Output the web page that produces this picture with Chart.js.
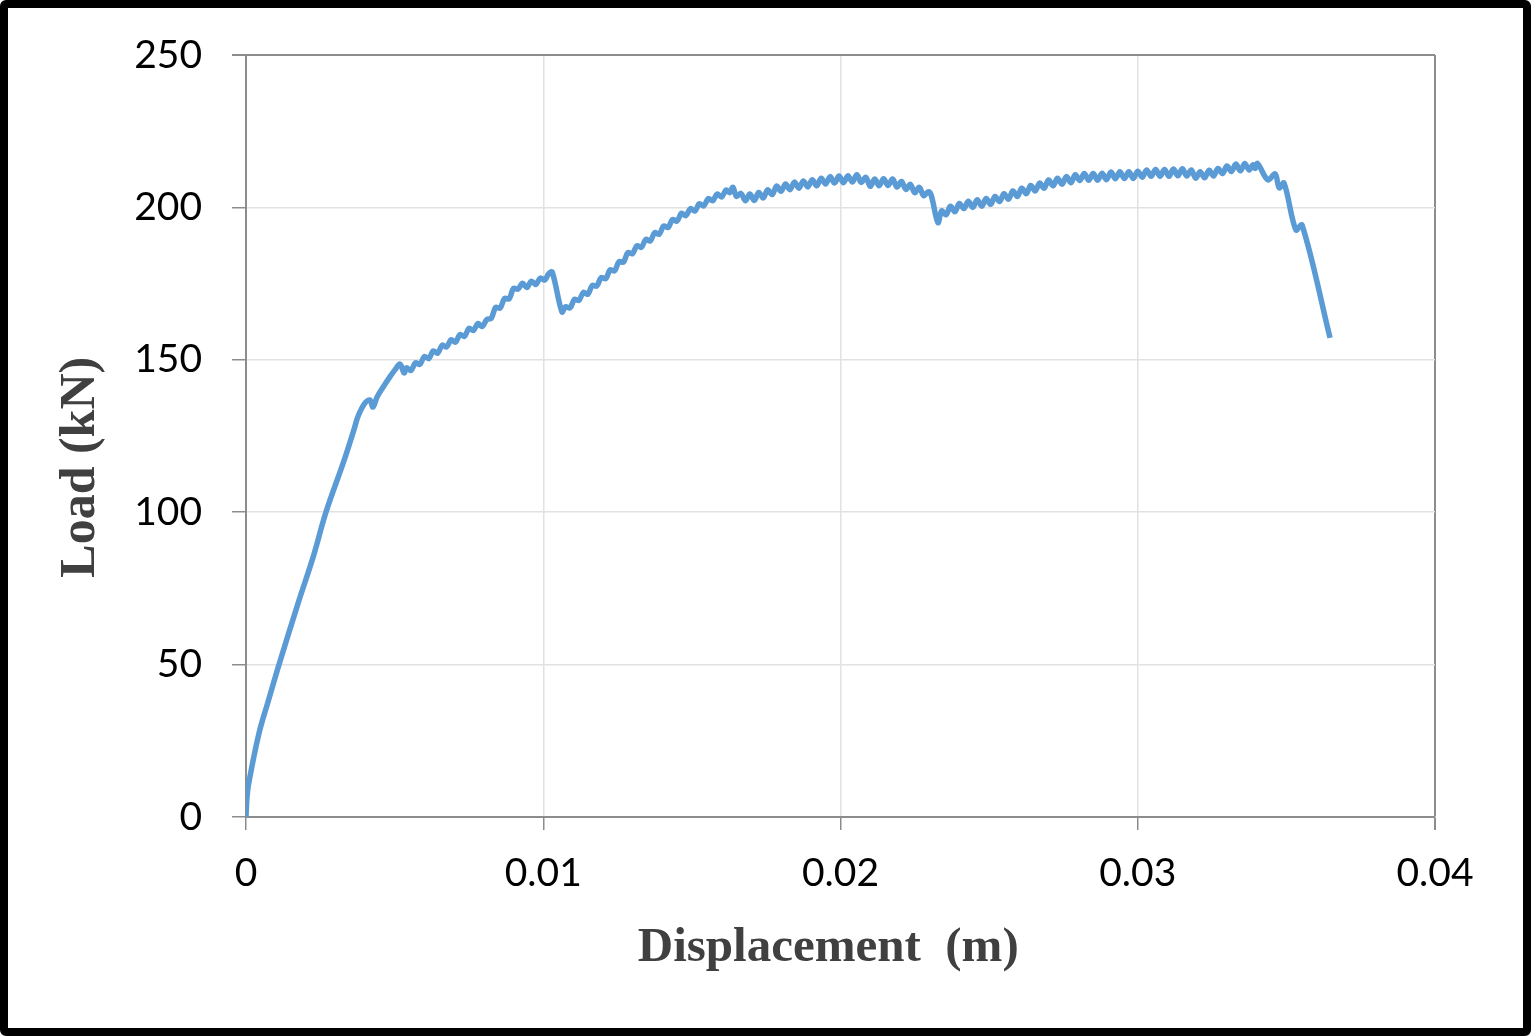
<!DOCTYPE html>
<html>
<head>
<meta charset="utf-8">
<script src="https://cdn.jsdelivr.net/npm/chart.js@4"></script>
<style>
  html, body { margin: 0; padding: 0; background: #fff; }
  #wrap { position: relative; width: 1531px; height: 1036px; }
  #frame {
    position: absolute; left: 0; top: 0; width: 1531px; height: 1036px;
    box-sizing: border-box; border: 8px solid #000; border-radius: 6px;
    pointer-events: none;
  }
</style>
</head>
<body>
<div id="wrap">
  <canvas id="myChart" width="1531" height="1036"></canvas>
  <div id="frame"></div>
</div>
<script>
const dispMm = [
  0, 0.03, 0.09, 0.44, 0.76, 1.11, 1.78, 2.25, 2.69, 3.30, 3.63,
  3.77, 4.00, 4.17, 4.27, 4.41, 4.61, 4.84, 5.01, 5.18, 5.32,
  5.40, 5.55, 5.70, 5.85, 6.00, 6.15, 6.30, 6.45, 6.60, 6.75,
  6.90, 7.05, 7.20, 7.35, 7.50, 7.65, 7.80, 7.95, 8.10, 8.25,
  8.40, 8.55, 8.70, 8.85, 9.00, 9.15, 9.30, 9.45, 9.60, 9.75,
  9.90, 10.05, 10.18, 10.30, 10.63, 10.75, 10.90, 11.05, 11.20, 11.35,
  11.50, 11.65, 11.80, 11.95, 12.10, 12.25, 12.40, 12.55, 12.70, 12.85,
  13.00, 13.15, 13.30, 13.45, 13.60, 13.75, 13.90, 14.05, 14.20, 14.35,
  14.50, 14.65, 14.80, 14.95, 15.10, 15.25, 15.40, 15.55, 15.70, 15.85,
  16.00, 16.15, 16.27, 16.38, 16.50, 16.65, 16.80, 16.95, 17.10, 17.25,
  17.40, 17.55, 17.70, 17.85, 18.00, 18.15, 18.30, 18.45, 18.60, 18.75,
  18.90, 19.05, 19.20, 19.35, 19.50, 19.65, 19.80, 19.95, 20.10, 20.25,
  20.40, 20.55, 20.70, 20.85, 21.00, 21.15, 21.30, 21.45, 21.60, 21.75,
  21.90, 22.05, 22.20, 22.35, 22.50, 22.65, 22.80, 22.95, 23.05, 23.28,
  23.40, 23.55, 23.70, 23.85, 24.00, 24.15, 24.30, 24.45, 24.60, 24.75,
  24.90, 25.05, 25.20, 25.35, 25.50, 25.65, 25.80, 25.95, 26.10, 26.25,
  26.40, 26.55, 26.70, 26.85, 27.00, 27.15, 27.30, 27.45, 27.60, 27.75,
  27.90, 28.05, 28.20, 28.35, 28.50, 28.65, 28.80, 28.95, 29.10, 29.25,
  29.40, 29.55, 29.70, 29.85, 30.00, 30.15, 30.30, 30.45, 30.60, 30.75,
  30.90, 31.05, 31.20, 31.35, 31.50, 31.65, 31.80, 31.95, 32.10, 32.25,
  32.40, 32.55, 32.70, 32.85, 33.00, 33.15, 33.30, 33.45, 33.60, 33.75,
  33.88, 33.95, 34.03, 34.38, 34.62, 34.76, 34.92, 35.32, 35.53, 36.47
];
const loadKN = [
  0, 6, 11, 27.6, 38.4, 50, 71, 85, 100, 117, 127,
  131.5, 135.8, 136.8, 134.5, 137.8, 141, 144.4, 146.7, 148.6, 145.7,
  147.4, 146.5, 149.0, 148.5, 151.1, 150.4, 152.9, 152.2, 154.8, 154.2,
  156.6, 155.8, 158.3, 157.7, 160.3, 159.6, 161.9, 160.9, 163.2, 163.6,
  167.2, 167.0, 170.1, 170.0, 173.4, 173.2, 175.1, 173.7, 175.8, 174.7,
  176.8, 176.2, 178.2, 178.8, 165.7, 167.4, 167.0, 169.8, 169.5, 172.1,
  171.5, 174.4, 174.2, 177.0, 176.6, 179.5, 179.2, 182.2, 182.1, 185.2,
  184.8, 187.4, 186.9, 189.5, 189.0, 191.7, 191.2, 193.9, 193.4, 196.0,
  195.5, 198.1, 197.3, 199.6, 198.8, 201.2, 200.5, 202.9, 202.2, 204.4,
  203.4, 205.7, 204.8, 206.6, 203.6, 204.6, 202.2, 204.4, 202.3, 204.9,
  203.1, 205.8, 204.2, 207.0, 205.3, 207.7, 205.8, 208.3, 206.3, 208.7,
  206.7, 209.1, 207.1, 209.6, 207.7, 210.1, 208.0, 210.3, 208.1, 210.4,
  208.3, 210.7, 208.2, 209.9, 206.9, 209.3, 207.1, 209.4, 207.2, 209.3,
  206.7, 208.5, 205.9, 207.6, 204.8, 206.6, 203.8, 205.1, 204.0, 195.0,
  198.8, 197.6, 200.4, 198.6, 201.3, 199.6, 202.0, 200.0, 202.5, 200.4,
  202.9, 201.0, 203.6, 201.9, 204.5, 202.7, 205.4, 203.6, 206.3, 204.5,
  207.2, 205.4, 208.0, 206.3, 209.0, 207.1, 209.6, 207.6, 210.1, 208.1,
  210.7, 208.8, 211.1, 208.9, 211.1, 208.9, 211.2, 209.1, 211.6, 209.4,
  211.7, 209.5, 211.7, 209.5, 211.9, 209.9, 212.3, 210.2, 212.4, 210.2,
  212.4, 210.2, 212.6, 210.4, 212.7, 210.3, 212.3, 209.6, 211.7, 209.7,
  212.2, 210.3, 212.8, 211.1, 213.6, 211.8, 214.2, 212.0, 214.4, 212.3,
  214.0, 212.8, 214.4, 209.0, 211.0, 206.4, 208.0, 192.6, 194.2, 157.2
];
const xTicks = [0, 0.01, 0.02, 0.03, 0.04];
const yTicks = [0, 50, 100, 150, 200, 250];

const points = dispMm.map((d, i) => ({ x: d / 1000, y: loadKN[i] }));

const edgeGray = '#8c8c8c';
const gridGray = '#e2e2e2';
const tickFont = { family: 'Lato', size: 39 };

const ctx = document.getElementById('myChart').getContext('2d');
const myChart = new Chart(ctx, {
    type: 'line',
    data: {
        datasets: [{
            label: 'Load',
            data: points,
            borderColor: '#5b9bd5',
            borderWidth: 5.5,
            pointRadius: 0,
            fill: false,
            tension: 0.35
        }]
    },
    options: {
        responsive: false,
        animation: false,
        layout: { padding: { left: 0, top: 55, right: 96, bottom: 0 } },
        scales: {
            x: {
                type: 'linear',
                min: xTicks[0],
                max: xTicks[xTicks.length - 1],
                afterBuildTicks: axis => { axis.ticks = xTicks.map(v => ({ value: v })); },
                afterFit: axis => { axis.height = 219; },
                ticks: {
                    color: '#000',
                    font: tickFont,
                    padding: 20,
                    maxRotation: 0,
                    callback: v => (v === 0 ? '0' : v.toFixed(2))
                },
                grid: {
                    color: c => (c.tick && c.tick.value === 0.04 ? edgeGray : gridGray),
                    lineWidth: c => (c.tick && c.tick.value === 0.04 ? 2 : 1.5),
                    tickColor: edgeGray,
                    tickLength: 13
                },
                border: { color: edgeGray, width: 2 },
                title: {
                    display: true,
                    // trailing spaces nudge the title a bit left, like the original
                    text: 'Displacement  (m)  ',
                    color: '#404040',
                    font: { family: 'Liberation Serif', size: 49, weight: 'bold' },
                    padding: { top: 0, bottom: 58 }
                }
            },
            y: {
                min: yTicks[0],
                max: yTicks[yTicks.length - 1],
                afterBuildTicks: axis => { axis.ticks = yTicks.map(v => ({ value: v })); },
                afterFit: axis => { axis.width = 246; },
                ticks: {
                    color: '#000',
                    font: tickFont,
                    padding: 30
                },
                grid: {
                    color: c => (c.tick && c.tick.value === 250 ? edgeGray : gridGray),
                    lineWidth: c => (c.tick && c.tick.value === 250 ? 2 : 1.5),
                    tickColor: edgeGray,
                    tickLength: 14
                },
                border: { color: edgeGray, width: 2 },
                title: {
                    display: true,
                    // trailing spaces push the rotated title down a little
                    text: 'Load (kN)     ',
                    color: '#404040',
                    font: { family: 'Liberation Serif', size: 50, weight: 'bold' },
                    padding: { top: 51, bottom: 0 }
                }
            }
        },
        plugins: {
            legend: { display: false },
            tooltip: { enabled: false }
        }
    }
});
</script>
</body>
</html>
